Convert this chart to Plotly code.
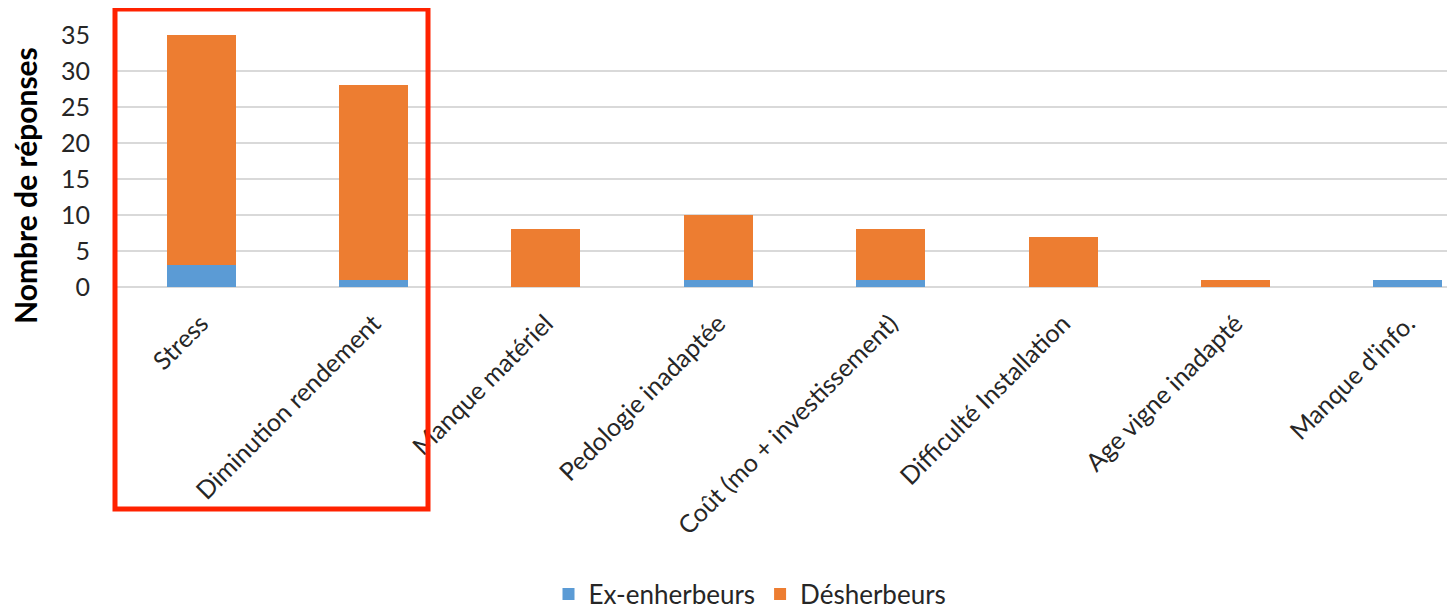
import plotly.graph_objects as go

categories = ["Stress", "Diminution rendement", "Manque matériel", "Pedologie inadaptée",
              "Coût (mo + investissement)", "Difficulté Installation", "Age vigne inadapté",
              "Manque d'info."]
ex_enherbeurs = [3, 1, 0, 1, 1, 0, 0, 1]
desherbeurs = [32, 27, 8, 9, 7, 7, 1, 0]
y_ticks = [0, 5, 10, 15, 20, 25, 30, 35]

# page body has an 8px margin: figure coordinates = screen coordinates - 8
OFF = 8
W, H = 1455 - OFF, 611 - OFF
L = 115 - OFF
R = 0
T = 35 - OFF
B = H - (287 - OFF)
FONT = "Lato"

fig = go.Figure()
fig.add_trace(go.Bar(x=categories, y=ex_enherbeurs, name="Ex-enherbeurs",
                     marker=dict(color="#5B9BD5", line=dict(width=0))))
fig.add_trace(go.Bar(x=categories, y=desherbeurs, name="Désherbeurs",
                     marker=dict(color="#ED7D31", line=dict(width=0))))

def px_x(px):
    return (px - OFF - L) / (W - L - R)

def px_y(py):
    return (H - B - (py - OFF)) / (H - T - B)

fig.update_layout(
    width=W, height=H,
    margin=dict(l=L, r=R, t=T, b=B),
    barmode="stack", bargap=0.6,
    plot_bgcolor="white", paper_bgcolor="white",
    font=dict(family=FONT, color="#262626"),
    xaxis=dict(range=[-0.5, 7.5 - 39 / 172.4], tickangle=-45, showgrid=False,
               tickfont=dict(size=25, color="#262626"), ticklabelstandoff=16,
               showline=False, zeroline=False),
    yaxis=dict(range=[0, 35], tickvals=y_ticks, showgrid=True, gridcolor="#d9d9d9",
               gridwidth=2, zeroline=True, zerolinecolor="#d9d9d9", zerolinewidth=2,
               tickfont=dict(size=25, color="#262626"), ticklabelstandoff=24,
               showline=False),
    showlegend=True,
    legend=dict(orientation="h", xref="container", yref="container",
                x=(750 - OFF) / W, xanchor="center", y=1 - (594 - OFF) / H, yanchor="middle",
                font=dict(size=26, color="#262626"), itemwidth=30, entrywidth=0,
                traceorder="normal", tracegroupgap=0),
    shapes=[dict(type="rect", xref="paper", yref="paper",
                 x0=px_x(115), x1=px_x(428), y0=px_y(9), y1=px_y(509),
                 line=dict(color="#FF2200", width=5))],
    annotations=[dict(text="<b>Nombre de réponses</b>", textangle=-90,
                      xref="paper", yref="paper", x=px_x(25), y=px_y(186),
                      xanchor="center", yanchor="middle", showarrow=False,
                      font=dict(size=30, color="#000000", family=FONT))],
)

fig.write_html("out.html")
